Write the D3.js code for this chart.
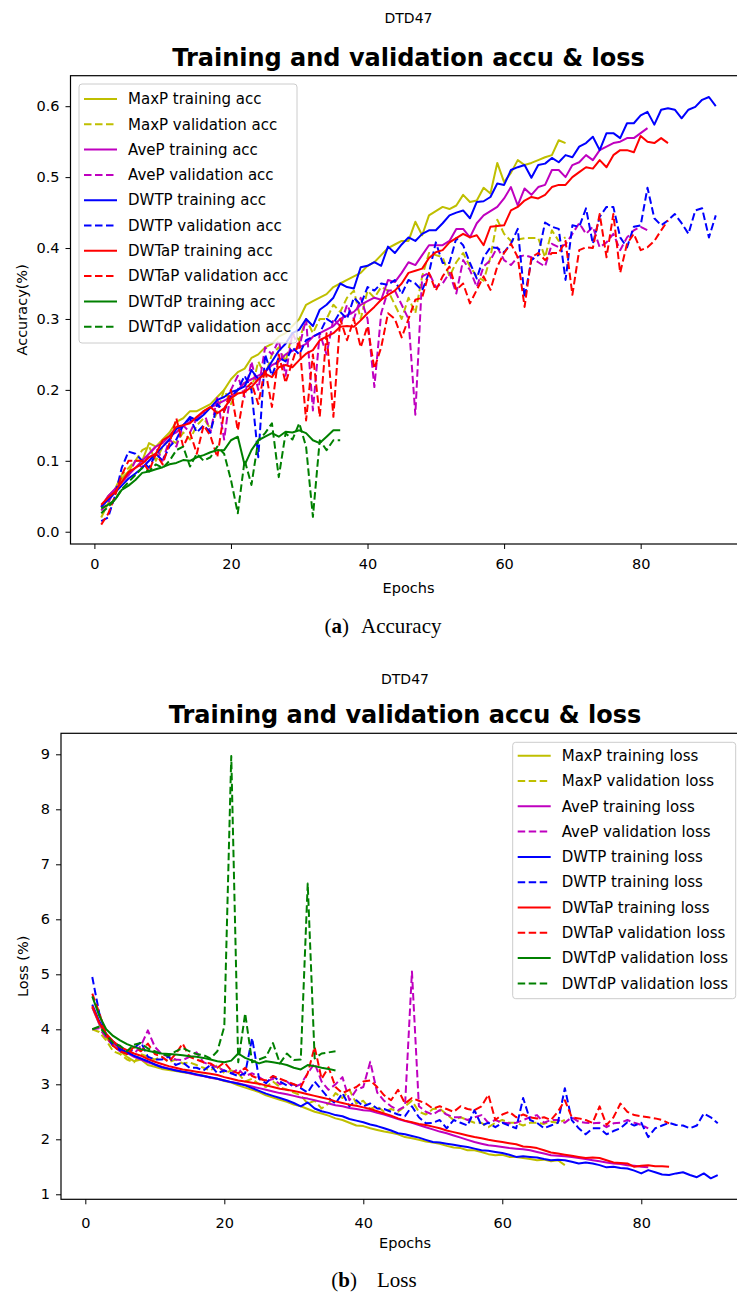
<!DOCTYPE html>
<html>
<head>
<meta charset="utf-8">
<script src="https://cdn.jsdelivr.net/npm/d3@7"></script>
<style>
  body { margin: 0; background: #fff; }
  svg { display: block; font-family: "DejaVu Sans", sans-serif; }
</style>
</head>
<body>
<div class="svg_container"></div>
<script>
// ---- Accuracy panel (values per epoch, starting at epoch 1) ----
var maxpTrainAcc = [.035,.05,.06,.075,.085,.1,.1,.125,.12,.13,
  .14,.155,.16,.17,.17,.175,.18,.19,.2,.215,
  .225,.23,.245,.25,.26,.265,.275,.28,.29,.3,
  .32,.325,.33,.335,.345,.35,.355,.36,.365,.375,
  .38,.39,.4,.405,.41,.41,.437,.418,.446,.452,
  .458,.455,.46,.475,.465,.467,.485,.477,.52,.493,
  .506,.524,.517,.52,.524,.528,.531,.552,.548];
var maxpValAcc = [.02,.04,.06,.08,.09,.1,.115,.12,.1,.12,
  .13,.125,.14,.13,.15,.16,.145,.17,.2,.18,
  .2,.21,.2,.24,.22,.25,.26,.24,.28,.27,
  .3,.28,.3,.3,.32,.31,.33,.34,.3,.34,
  .33,.345,.34,.32,.3,.33,.308,.36,.393,.39,
  .387,.36,.38,.393,.374,.36,.354,.387,.44,.42,
  .41,.412,.414,.414,.414,.387,.425,.41,.415];
var avepTrainAcc = [.035,.05,.06,.07,.08,.09,.1,.11,.12,.125,
  .135,.14,.15,.155,.16,.17,.175,.18,.185,.19,
  .2,.21,.215,.22,.225,.235,.24,.25,.255,.26,
  .265,.275,.28,.285,.29,.3,.305,.31,.32,.325,
  .33,.327,.355,.352,.365,.38,.376,.39,.404,.404,
  .404,.41,.427,.427,.415,.435,.446,.452,.458,.47,
  .486,.46,.484,.475,.486,.489,.51,.51,.5,.517,
  .521,.531,.524,.538,.543,.548,.55,.555,.555,.562,
  .569];
var avepValAcc = [.03,.04,.06,.07,.08,.1,.09,.11,.12,.1,
  .13,.12,.15,.14,.16,.17,.14,.19,.13,.2,
  .22,.19,.24,.2,.26,.25,.27,.22,.28,.26,
  .3,.171,.28,.25,.3,.29,.32,.3,.33,.3,
  .204,.308,.34,.34,.32,.3,.165,.36,.365,.345,
  .35,.365,.336,.383,.369,.345,.374,.383,.401,.383,
  .376,.387,.39,.387,.38,.374,.406,.401,.405,.42,
  .435,.42,.43,.401,.408,.42,.397,.415,.425,.43,
  .425];
var dwtpTrainAcc = [.035,.045,.055,.065,.075,.082,.09,.1,.11,.12,
  .13,.145,.15,.162,.157,.165,.175,.186,.19,.197,
  .2,.205,.228,.215,.225,.24,.255,.265,.28,.285,
  .3,.29,.313,.32,.33,.35,.345,.343,.373,.375,
  .38,.375,.402,.393,.405,.415,.41,.42,.425,.425,
  .435,.446,.45,.453,.442,.465,.466,.472,.491,.489,
  .51,.514,.517,.499,.517,.519,.527,.521,.531,.528,
  .543,.548,.557,.538,.562,.562,.555,.576,.576,.587,
  .592,.574,.595,.597,.595,.583,.595,.599,.609,.613,
  .6];
var dwtpValAcc = [.015,.02,.05,.09,.113,.11,.1,.09,.11,.1,
  .12,.13,.15,.16,.14,.15,.14,.18,.17,.19,
  .2,.22,.2,.105,.25,.22,.246,.24,.26,.25,
  .27,.275,.28,.3,.294,.31,.3,.33,.32,.345,
  .34,.35,.348,.355,.335,.355,.35,.34,.365,.408,
  .379,.379,.414,.404,.379,.357,.387,.401,.4,.394,
  .406,.427,.33,.383,.39,.436,.43,.427,.355,.432,
  .43,.456,.406,.444,.458,.458,.415,.401,.43,.432,
  .485,.442,.432,.439,.448,.435,.42,.453,.456,.415,
  .446];
var dwtaTrainAcc = [.038,.048,.056,.07,.084,.09,.096,.105,.11,.129,
  .135,.148,.15,.153,.162,.17,.176,.167,.174,.188,
  .195,.197,.204,.215,.223,.218,.232,.235,.232,.242,
  .251,.256,.27,.275,.28,.289,.29,.289,.298,.308,
  .317,.327,.334,.34,.35,.365,.368,.371,.386,.394,
  .397,.408,.414,.42,.415,.418,.404,.43,.431,.432,
  .453,.458,.467,.472,.47,.475,.486,.489,.489,.5,
  .507,.514,.512,.524,.514,.531,.538,.538,.535,.558,
  .55,.548,.555,.548];
var dwtaValAcc = [.01,.025,.05,.08,.1,.1,.1,.085,.11,.095,
  .125,.16,.12,.14,.11,.15,.135,.105,.17,.2,
  .143,.2,.21,.18,.23,.176,.25,.21,.24,.27,
  .157,.25,.162,.28,.162,.3,.27,.3,.26,.29,
  .23,.26,.308,.3,.274,.3,.327,.33,.365,.34,
  .36,.374,.341,.35,.322,.341,.36,.341,.374,.393,
  .406,.387,.317,.387,.393,.383,.393,.393,.41,.334,
  .397,.401,.4,.448,.387,.448,.365,.406,.42,.397,
  .401,.41,.425,.439];
var dwtdTrainAcc = [.033,.038,.045,.059,.065,.073,.083,.085,.088,.091,
  .095,.097,.101,.1,.105,.108,.112,.115,.115,.129,
  .134,.094,.115,.129,.134,.139,.134,.141,.14,.143,
  .139,.129,.125,.134,.143,.143];
var dwtdValAcc = [.026,.035,.045,.06,.07,.08,.09,.085,.095,.09,
  .1,.115,.12,.092,.11,.1,.105,.12,.11,.073,
  .026,.101,.066,.129,.139,.153,.077,.139,.13,.153,
  .12,.021,.129,.115,.129,.129];

// ---- Loss panel ----
var maxpTrainLoss = [4.4,4.1,3.85,3.7,3.6,3.5,3.42,3.45,3.35,3.32,
  3.28,3.26,3.24,3.22,3.2,3.18,3.16,3.12,3.1,3.06,
  3.03,2.98,2.94,2.9,2.86,2.8,2.76,2.72,2.68,2.63,
  2.6,2.55,2.5,2.47,2.43,2.38,2.35,2.3,2.25,2.24,
  2.2,2.17,2.14,2.12,2.09,2.04,2.02,1.99,1.96,1.94,
  1.92,1.88,1.85,1.84,1.8,1.8,1.77,1.73,1.71,1.72,
  1.68,1.68,1.66,1.64,1.62,1.63,1.6,1.62,1.53];
var maxpValLoss = [4.0,3.95,3.8,3.6,3.55,3.45,3.4,3.55,3.5,3.45,
  3.5,3.4,3.45,3.38,3.4,3.35,3.3,3.25,3.35,3.2,
  3.25,3.2,3.05,3.1,3.0,2.95,3.05,2.95,2.9,2.85,
  2.8,2.65,2.7,2.56,2.65,2.84,2.75,2.9,2.65,2.7,
  2.55,2.6,2.5,2.55,2.5,2.6,2.7,2.5,2.45,2.55,
  2.56,2.45,2.35,2.4,2.35,2.3,2.3,2.22,2.3,2.35,
  2.3,2.3,2.25,2.3,2.3,2.28,2.32,2.3,2.35];
var avepTrainLoss = [4.4,4.1,3.9,3.75,3.65,3.57,3.5,3.45,3.4,3.36,
  3.32,3.29,3.26,3.23,3.2,3.17,3.15,3.12,3.1,3.07,
  3.04,3.02,2.99,2.96,2.93,2.9,2.87,2.84,2.82,2.79,
  2.76,2.74,2.71,2.68,2.65,2.62,2.6,2.57,2.55,2.53,
  2.52,2.48,2.45,2.41,2.37,2.33,2.3,2.26,2.22,2.18,
  2.14,2.11,2.07,2.03,1.99,1.95,1.92,1.89,1.88,1.86,
  1.84,1.83,1.82,1.8,1.77,1.74,1.71,1.7,1.69,1.68,
  1.66,1.64,1.62,1.6,1.58,1.56,1.55,1.53,1.52,1.5,
  1.49];
var avepValLoss = [4.0,4.02,3.85,3.7,3.6,3.58,3.55,3.7,3.98,3.68,
  3.55,3.5,3.45,3.44,3.5,3.58,3.4,3.35,3.31,3.25,
  3.2,3.28,3.15,3.2,3.13,3.05,3.1,3.0,3.05,2.95,
  3.0,3.2,3.38,3.05,2.9,3.0,3.13,2.71,2.9,2.95,
  3.41,2.85,2.7,2.6,2.53,2.6,5.05,2.6,2.5,2.45,
  2.53,2.45,2.4,2.4,2.35,2.4,2.44,2.3,2.35,2.3,
  2.29,2.3,2.35,2.4,2.44,2.3,2.35,2.35,2.3,2.4,
  2.32,2.3,2.29,2.3,2.22,2.29,2.3,2.35,2.3,2.26,
  2.2];
var dwtpTrainLoss = [4.45,4.15,3.9,3.78,3.65,3.58,3.52,3.47,3.42,3.36,
  3.31,3.28,3.25,3.23,3.21,3.18,3.15,3.13,3.1,3.07,
  3.04,3.01,2.98,2.93,2.88,2.83,2.79,2.75,2.71,2.66,
  2.6,2.67,2.56,2.51,2.48,2.44,2.42,2.37,2.34,2.31,
  2.27,2.24,2.2,2.16,2.11,2.09,2.06,2.03,1.99,1.95,
  1.94,1.92,1.9,1.88,1.86,1.83,1.8,1.79,1.77,1.75,
  1.72,1.68,1.69,1.68,1.67,1.64,1.62,1.63,1.62,1.59,
  1.56,1.58,1.56,1.53,1.49,1.5,1.48,1.47,1.43,1.38,
  1.44,1.4,1.36,1.35,1.38,1.4,1.35,1.31,1.38,1.29,
  1.35];
var dwtpValLoss = [4.95,4.3,3.9,3.7,3.62,3.55,3.65,3.77,3.5,3.45,
  3.45,3.5,3.35,3.4,3.3,3.3,3.25,3.35,3.2,3.25,
  3.2,3.15,3.2,3.84,3.1,3.02,3.15,3.05,2.98,3.0,
  2.93,2.85,3.05,2.9,2.75,2.65,2.84,2.6,2.71,2.6,
  2.65,2.56,2.55,2.5,2.45,2.42,2.6,2.4,2.29,2.3,
  2.35,2.2,2.35,2.3,2.25,2.53,2.25,2.3,2.22,2.3,
  2.25,2.2,2.75,2.35,2.3,2.2,2.25,2.3,2.93,2.35,
  2.2,2.09,2.2,2.2,2.09,2.15,2.2,2.31,2.25,2.3,
  2.04,2.2,2.25,2.3,2.26,2.25,2.2,2.25,2.47,2.4,
  2.29];
var dwtaTrainLoss = [4.42,4.12,3.92,3.78,3.68,3.62,3.56,3.52,3.46,3.41,
  3.37,3.33,3.3,3.27,3.25,3.23,3.21,3.19,3.17,3.13,
  3.1,3.07,3.05,3.03,3.01,2.98,2.95,2.92,2.9,2.88,
  2.85,2.82,2.79,2.76,2.73,2.69,2.66,2.63,2.61,2.58,
  2.55,2.51,2.47,2.43,2.38,2.34,2.31,2.28,2.26,2.23,
  2.2,2.16,2.13,2.1,2.07,2.04,2.02,1.99,1.97,1.95,
  1.93,1.91,1.87,1.86,1.84,1.8,1.76,1.74,1.72,1.7,
  1.68,1.66,1.67,1.66,1.62,1.58,1.57,1.56,1.5,1.52,
  1.53,1.51,1.51,1.5];
var dwtaValLoss = [4.65,4.3,3.9,3.7,3.6,3.55,3.68,3.6,3.74,3.55,
  3.5,3.41,3.55,3.74,3.5,3.45,3.4,3.38,3.3,3.4,
  3.25,3.2,3.3,3.15,3.1,3.07,3.15,3.1,3.05,3.0,
  2.95,3.2,3.68,3.1,3.31,2.95,2.84,2.9,2.95,3.05,
  3.07,2.95,2.8,2.71,2.9,2.65,2.75,2.7,2.65,2.56,
  2.6,2.55,2.5,2.6,2.55,2.53,2.6,2.81,2.35,2.45,
  2.5,2.4,2.45,2.4,2.38,2.4,2.35,2.5,2.71,2.4,
  2.38,2.35,2.3,2.6,2.26,2.4,2.65,2.5,2.44,2.42,
  2.4,2.38,2.35,2.29];
var dwtdTrainLoss = [4.6,4.25,4.0,3.88,3.8,3.73,3.68,3.64,3.61,3.58,
  3.56,3.55,3.54,3.53,3.51,3.5,3.48,3.45,3.42,3.4,
  3.43,3.56,3.48,3.43,3.38,3.42,3.4,3.38,3.35,3.3,
  3.27,3.35,3.33,3.3,3.28,3.25];
var dwtdValLoss = [4.0,4.05,3.9,3.75,3.7,3.6,3.72,3.75,3.65,3.6,
  3.55,3.52,3.6,3.66,3.6,3.55,3.53,3.47,3.6,4.05,
  8.97,3.4,4.29,3.4,3.45,3.5,3.75,3.38,3.56,3.44,
  3.45,6.65,3.47,3.56,3.58,3.6];

var accLabels = ["MaxP training acc", "MaxP validation acc", "AveP training acc", "AveP validation acc",
  "DWTP training acc", "DWTP validation acc", "DWTaP training acc", "DWTaP validation acc",
  "DWTdP training acc", "DWTdP validation acc"];
var lossLabels = ["MaxP training loss", "MaxP validation loss", "AveP training loss", "AveP validation loss",
  "DWTP training loss", "DWTP training loss", "DWTaP training loss", "DWTaP validation loss",
  "DWTdP validation loss", "DWTdP validation loss"];
var accTicks = [0, 0.1, 0.2, 0.3, 0.4, 0.5, 0.6];
var lossTicks = [1, 2, 3, 4, 5, 6, 7, 8, 9];
var epochTicks = [0, 20, 40, 60, 80];

// line styles, in plotting order (train solid / validation dashed)
var STYLES = [
  {color: "#bfbf00", dash: false}, {color: "#bfbf00", dash: true},
  {color: "#bf00bf", dash: false}, {color: "#bf00bf", dash: true},
  {color: "#0000ff", dash: false}, {color: "#0000ff", dash: true},
  {color: "#ff0000", dash: false}, {color: "#ff0000", dash: true},
  {color: "#008000", dash: false}, {color: "#008000", dash: true}
];

var svg = d3.select("div.svg_container")
  .append("svg")
    .attr("width", 737)
    .attr("height", 1293);

function draw_panel(p) {
  var g = svg.append("g");

  var x = d3.scaleLinear().domain([-3.5, 95.5]).range([p.left, p.right]);
  var y = d3.scaleLinear().domain(p.yDomain).range([p.bottom, p.top]);
  var cx = (p.left + p.right) / 2;

  // suptitle and title
  g.append("text")
    .attr("x", cx).attr("y", p.supY)
    .attr("text-anchor", "middle")
    .style("font-size", "14px")
    .text("DTD47");
  g.append("text")
    .attr("x", cx).attr("y", p.titleY)
    .attr("text-anchor", "middle")
    .style("font-size", "24px")
    .style("font-weight", "bold")
    .text("Training and validation accu & loss");

  // clip the lines to the axes box
  g.append("clipPath").attr("id", "clip_" + p.id)
    .append("rect")
      .attr("x", p.left).attr("y", p.top)
      .attr("width", p.right - p.left).attr("height", p.bottom - p.top);

  var line = d3.line()
    .x(function(d, i) { return x(i + 1); })
    .y(function(d) { return y(d); });

  p.series.forEach(function(s, i) {
    g.append("path")
      .datum(s)
      .attr("d", line)
      .attr("clip-path", "url(#clip_" + p.id + ")")
      .attr("fill", "none")
      .attr("stroke", STYLES[i].color)
      .attr("stroke-width", 2)
      .attr("stroke-linejoin", "round")
      .attr("stroke-dasharray", STYLES[i].dash ? "7.5,3.5" : null);
  });

  // axes
  var xAxis = g.append("g")
    .attr("transform", "translate(0," + p.bottom + ")")
    .call(d3.axisBottom(x).tickValues(epochTicks).tickSize(5).tickPadding(p.xPad).tickSizeOuter(0));
  var yAxis = g.append("g")
    .attr("transform", "translate(" + p.left + ",0)")
    .call(d3.axisLeft(y).tickValues(p.yTicks).tickFormat(p.yFormat).tickSize(5).tickPadding(6).tickSizeOuter(0));
  [xAxis, yAxis].forEach(function(a) {
    a.select(".domain").remove();
    a.selectAll("text").style("font-size", "14.5px").attr("fill", "#000").style("font-family", "DejaVu Sans");
    a.selectAll("line").attr("stroke", "#000");
  });

  // spines
  g.append("rect")
    .attr("x", p.left).attr("y", p.top)
    .attr("width", p.right - p.left).attr("height", p.bottom - p.top)
    .attr("fill", "none")
    .attr("stroke", "#000")
    .attr("stroke-width", 1.2);

  // axis labels
  g.append("text")
    .attr("x", cx).attr("y", p.xLabelY)
    .attr("text-anchor", "middle")
    .style("font-size", "14.5px")
    .text("Epochs");
  g.append("text")
    .attr("transform", "translate(" + p.yLabelX + "," + ((p.top + p.bottom) / 2) + ") rotate(-90)")
    .attr("text-anchor", "middle")
    .style("font-size", "14.5px")
    .text(p.yLabel);

  // legend
  var lg = g.append("g").attr("class", "legend");
  lg.append("rect")
    .attr("x", p.legend.x).attr("y", p.legend.y)
    .attr("width", p.legend.w).attr("height", p.legend.h)
    .attr("rx", 3)
    .attr("fill", "#fff").attr("fill-opacity", 0.8)
    .attr("stroke", "#cccccc");
  p.labels.forEach(function(lab, i) {
    var ly = p.legend.first + i * 25.3;
    lg.append("line")
      .attr("x1", p.legend.x + 5).attr("x2", p.legend.x + 38)
      .attr("y1", ly).attr("y2", ly)
      .attr("stroke", STYLES[i].color)
      .attr("stroke-width", 2)
      .attr("stroke-dasharray", STYLES[i].dash ? "7.5,3.5" : null);
    lg.append("text")
      .attr("x", p.legend.x + 49).attr("y", ly)
      .attr("dy", "0.35em")
      .style("font-size", "15px")
      .text(lab);
  });

  // sub-figure caption
  var cap = g.append("text")
    .attr("x", p.capX).attr("y", p.capY)
    .attr("text-anchor", "middle")
    .style("font-family", "'Liberation Serif', 'DejaVu Serif', serif")
    .style("font-size", "21px");
  cap.append("tspan").text("(");
  cap.append("tspan").style("font-weight", "bold").text(p.capLetter);
  cap.append("tspan").text(")");
  cap.append("tspan").attr("dx", p.capGap).text(p.capText);
}

draw_panel({
  id: "acc",
  left: 70.5, right: 746.5, top: 75.7, bottom: 544,
  yDomain: [-0.0173, 0.643],
  yTicks: accTicks, yFormat: d3.format(".1f"), xPad: 10,
  supY: 23, titleY: 66,
  xLabelY: 593, yLabelX: 27, yLabel: "Accuracy(%)",
  series: [maxpTrainAcc, maxpValAcc, avepTrainAcc, avepValAcc, dwtpTrainAcc, dwtpValAcc,
           dwtaTrainAcc, dwtaValAcc, dwtdTrainAcc, dwtdValAcc],
  labels: accLabels,
  legend: {x: 79, y: 84, w: 218, h: 259, first: 99},
  capX: 383, capY: 633, capLetter: "a", capText: "Accuracy", capGap: 12
});

draw_panel({
  id: "loss",
  left: 61, right: 749, top: 733.3, bottom: 1199.3,
  yDomain: [0.909, 9.382],
  yTicks: lossTicks, yFormat: d3.format("d"), xPad: 13,
  supY: 684, titleY: 723,
  xLabelY: 1248, yLabelX: 28, yLabel: "Loss (%)",
  series: [maxpTrainLoss, maxpValLoss, avepTrainLoss, avepValLoss, dwtpTrainLoss, dwtpValLoss,
           dwtaTrainLoss, dwtaValLoss, dwtdTrainLoss, dwtdValLoss],
  labels: lossLabels,
  legend: {x: 512.7, y: 742.3, w: 223, h: 256.4, first: 755.7},
  capX: 374, capY: 1287, capLetter: "b", capText: "Loss", capGap: 20
});
</script>
</body>
</html>
